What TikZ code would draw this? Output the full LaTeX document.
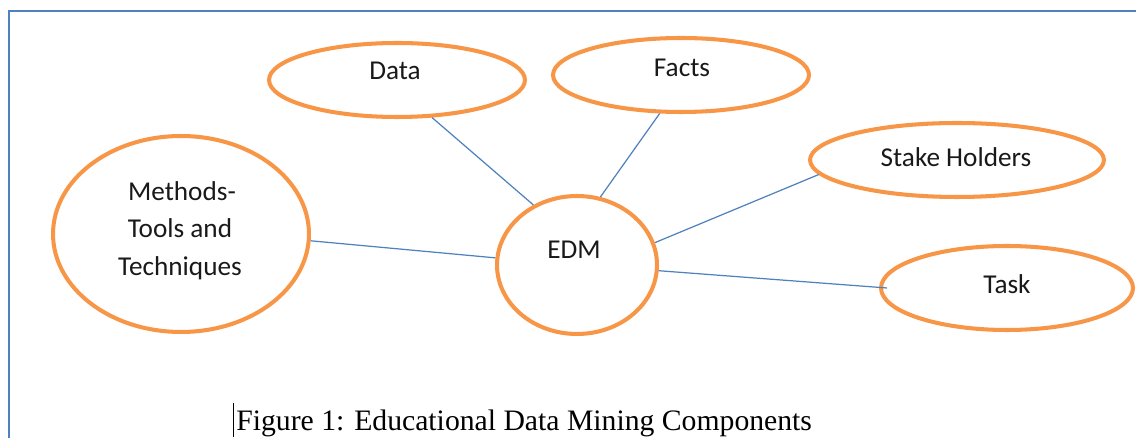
\documentclass[tikz,border=0pt]{standalone}
\usepackage{fontspec}
\setmainfont{Carlito}
\newfontfamily\capfont{Liberation Serif}
\usetikzlibrary{shapes.geometric}

\definecolor{edmorange}{HTML}{F79646}
\definecolor{edmblue}{HTML}{4F81BD}

\tikzset{
  bubble/.style={ellipse, draw=edmorange, line width=2.3pt, inner sep=0pt},
  word/.style={anchor=base, font=\fontsize{15.5}{21.3}\selectfont, text=black!90},
  link/.style={draw=edmblue, line width=0.7pt}
}

\begin{document}
\begin{tikzpicture}[x=0.02cm, y=-0.02cm]
        \useasboundingbox (0,0) rectangle (1136,438);
        \draw[edmblue, line width=1.4pt] (9,440) -- (9,11) -- (1140,11);

        % the bubbles
        \node[bubble, minimum width=5.12cm, minimum height=1.48cm] (data) at (397,80) {};
        \node[bubble, minimum width=5.12cm, minimum height=1.48cm] (facts) at (681,75) {};
        \node[bubble, minimum width=5.88cm, minimum height=1.48cm] (stake) at (957,160) {};
        \node[bubble, minimum width=5.12cm, minimum height=3.92cm] (methods) at (181,234) {};
        \node[bubble, minimum width=3.2cm, minimum height=2.76cm] (edm) at (577,265) {};
        \node[bubble, minimum width=5.04cm, minimum height=1.68cm] (task) at (1007,288) {};

        \node[word] (data-t) at (395,80) {Data};
        \node[word] (facts-t) at (682,76.5) {Facts};
        \node[word] (stake-t) at (956,166.5) {Stake Holders};
        \node[word] (edm-t) at (574,258.5) {EDM};
        \node[word] (task-t) at (1007,293.5) {Task};
        \node[word] (methods-a) at (182,200.5) {Methods-};
        \node[word] (methods-b) at (180,238) {Tools and};
        \node[word] (methods-c) at (180,275.5) {Techniques};

        % spokes out of EDM
        \draw[link] (edm.126.7) -- (data.-47.6);
        \draw[link] (edm.71.3) -- (facts.-119.9);
        \draw[link] (edm.16) -- (stake.-174.9);
        \draw[link] (edm.175) -- (methods.-3.6);
        \draw[link] (edm.-4.9) -- ([xshift=0.16cm]task.180);

        \node[anchor=base west, inner sep=0pt, font=\capfont\fontsize{16.9}{18}\selectfont] (caption) at (236,431) {Figure 1: Educational Data Mining Components};
        \draw[line width=0.8pt] (233.5,403) -- (233.5,437);
      \end{tikzpicture}
\end{document}
